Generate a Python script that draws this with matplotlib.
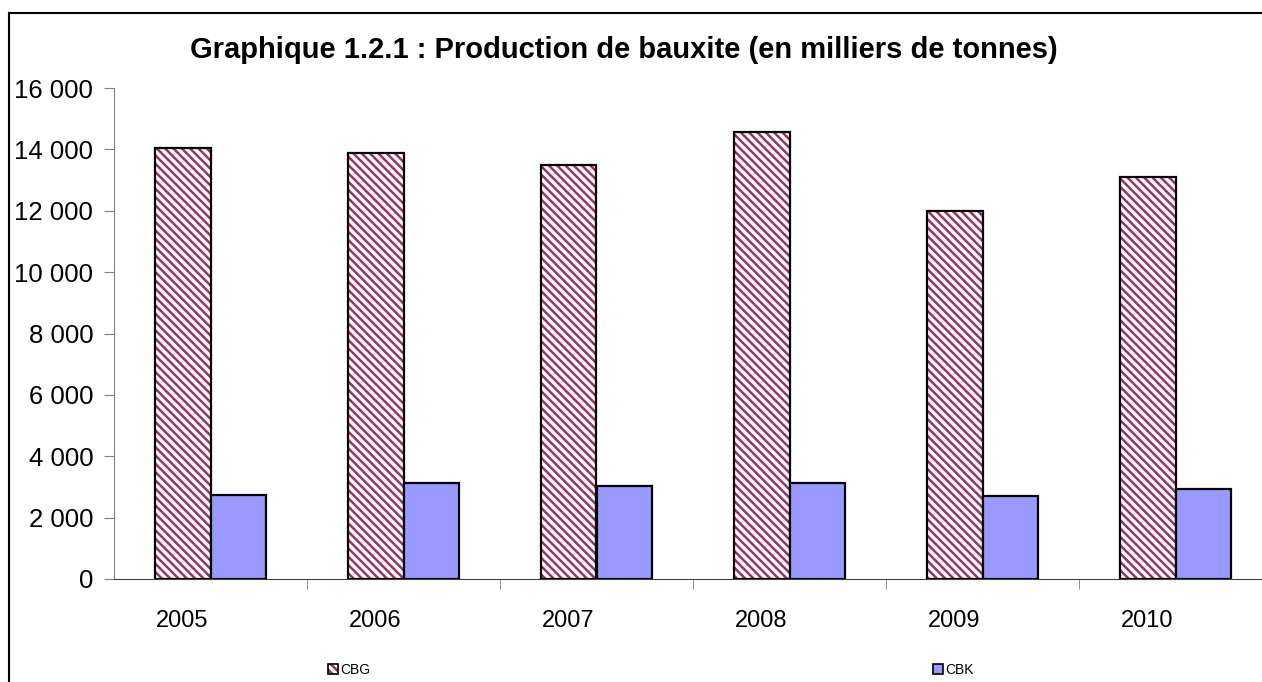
import numpy as np
import matplotlib.pyplot as plt
import matplotlib.transforms as mtransforms
from matplotlib.ticker import FuncFormatter
from matplotlib.lines import Line2D
from matplotlib.patches import Patch
from matplotlib.legend_handler import HandlerTuple

plt.rcParams.update({'font.family': ['Liberation Sans', 'DejaVu Sans'], 'hatch.linewidth': 1.8})

years = ['2005', '2006', '2007', '2008', '2009', '2010']
cbg = [14050, 13880, 13490, 14560, 11990, 13100]
cbk = [2740, 3120, 3030, 3120, 2710, 2930]

fig = plt.figure(figsize=(12.62, 6.82), dpi=100)
ax = fig.add_axes([114 / 1262, 1 - 579 / 682, 1158 / 1262, 491 / 682])

x = np.arange(len(years))
w = 0.285
hatch = '\\\\\\\\'

# hatched CBG bars: hatch first, then black outline on top
ax.bar(x - w / 2, cbg, w, color='white', edgecolor='#993366', hatch=hatch, linewidth=0)
ax.bar(x - w / 2, cbg, w, color='none', edgecolor='black', linewidth=1.6)
ax.bar(x + w / 2, cbk, w, color='#9999FF', edgecolor='black', linewidth=1.6)

ax.set_xlim(-0.5, len(years) - 0.5)
ax.set_ylim(0, 16000)
ax.set_yticks(np.arange(0, 16001, 2000))
ax.yaxis.set_major_formatter(FuncFormatter(lambda v, p: f'{int(v):,}'.replace(',', ' ')))
ax.set_xticks(x)
ax.set_xticklabels(years, fontsize=17)
ax.set_xticks(np.arange(0.5, len(years) - 0.5), minor=True)
ax.tick_params(axis='x', which='major', length=0, pad=22)
ax.tick_params(axis='x', which='minor', length=7, color='#808080')
ax.tick_params(axis='y', labelsize=18.5, length=7, color='#808080', pad=8)

shift = mtransforms.ScaledTranslation(-28 / 100, 0, fig.dpi_scale_trans)
for lab in ax.get_xticklabels():
    lab.set_transform(lab.get_transform() + shift)

for s in ['top', 'right']:
    ax.spines[s].set_visible(False)
ax.spines['left'].set_color('#808080')
ax.spines['bottom'].set_color('#404040')

fig.text(624 / 1262, 1 - 50 / 682, 'Graphique 1.2.1 : Production de bauxite (en milliers de tonnes)',
         ha='center', va='center', fontsize=21, fontweight='bold')

h_cbg = (Patch(facecolor='white', edgecolor='#993366', hatch=hatch, linewidth=0),
         Patch(facecolor='none', edgecolor='black', linewidth=1.2))
h_cbk = Patch(facecolor='#9999FF', edgecolor='black', linewidth=1.2)
fig.legend([h_cbg, h_cbk], ['CBG', 'CBK'], loc='center', bbox_to_anchor=(651 / 1262, 1 - 670 / 682),
           ncol=2, frameon=False, fontsize=10, handlelength=0.75, handleheight=0.75,
           handletextpad=0.15, columnspacing=40.5, handler_map={tuple: HandlerTuple(ndivide=1)})

# frame around the chart area
fig.add_artist(Line2D([9 / 1262, 9 / 1262], [0, 1 - 13 / 682], color='black', lw=1.5))
fig.add_artist(Line2D([9 / 1262, 1], [1 - 13 / 682, 1 - 13 / 682], color='black', lw=1.5))

fig.savefig('out.png', dpi=100)
